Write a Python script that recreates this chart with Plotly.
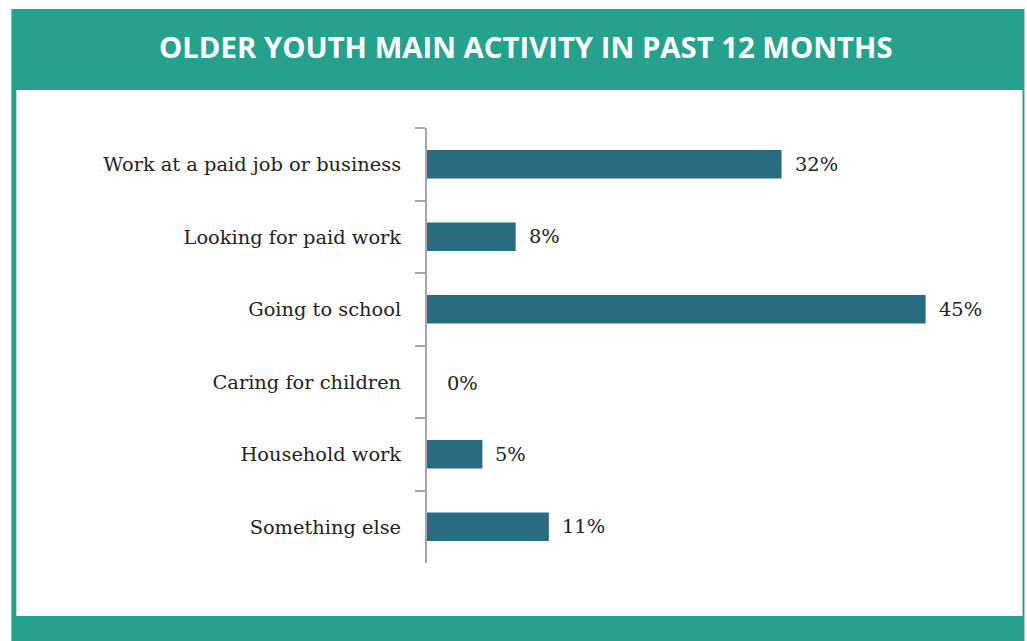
import plotly.graph_objects as go

categories = ["Work at a paid job or business", "Looking for paid work", "Going to school",
              "Caring for children", "Household work", "Something else"]
values = [32, 8, 45, 0, 5, 11]
labels = ["32%", "8%", "45%", "0%", "5%", "11%"]
title = "OLDER YOUTH MAIN ACTIVITY IN PAST 12 MONTHS"

W, H = 1027, 641
L, R, T, B = 427, 45.5, 128, 78
pw, ph = W - L - R, H - T - B

def px(x):
    return (x - L) / pw

def py(y):
    return (H - B - y) / ph

TEAL = "#25A18E"
BAR = "#296B80"
FS = 19.4

fig = go.Figure(go.Bar(
    y=categories, x=values, orientation="h", marker=dict(color=BAR, line=dict(width=0)),
    width=0.39, hoverinfo="skip",
))

for c, v, t in zip(categories, values, labels):
    fig.add_annotation(x=v, y=c, text=t, showarrow=False, xanchor="left",
                       xshift=18 if v == 0 else 11, yshift=-2 if v == 0 else 0,
                       font=dict(family="DejaVu Serif", size=FS, color="#222222"))

shapes = [
    dict(x0=11, x1=1025, y0=9, y1=90),
    dict(x0=11, x1=16, y0=90, y1=616),
    dict(x0=1023, x1=1025, y0=90, y1=616),
    dict(x0=11, x1=1025, y0=616, y1=641),
]
for s in shapes:
    fig.add_shape(type="rect", xref="paper", yref="paper",
                  x0=px(s["x0"]), x1=px(s["x1"]), y0=py(s["y1"]), y1=py(s["y0"]),
                  fillcolor=TEAL, line=dict(width=0), layer="below")

fig.add_annotation(xref="paper", yref="paper", x=px(526.5), y=py(47), text="<b>" + title + "</b>",
                   showarrow=False, xanchor="center", yanchor="middle",
                   font=dict(family="Open Sans", size=29.3, color="white"))

fig.update_layout(
    width=W, height=H, margin=dict(l=L, r=R, t=T, b=B, autoexpand=False),
    paper_bgcolor="white", plot_bgcolor="rgba(0,0,0,0)", showlegend=False,
    xaxis=dict(range=[0, 50], visible=False, fixedrange=True),
    yaxis=dict(autorange="reversed", showline=True, linecolor="#A6A6A6", linewidth=2,
               ticks="outside", ticklen=10, tickcolor="#A6A6A6", tickwidth=2,
               tickson="boundaries", showgrid=False, zeroline=False,
               ticklabelstandoff=20, fixedrange=True,
               tickfont=dict(family="DejaVu Serif", size=FS, color="#222222")),
)

fig.write_html("out.html", config={"displayModeBar": False},
               post_script="document.body.style.margin='0';")
